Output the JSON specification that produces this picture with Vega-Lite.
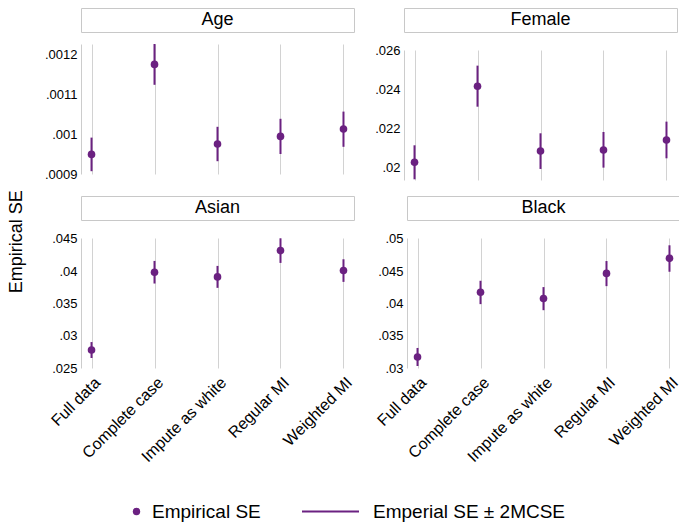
{
  "$schema": "https://vega.github.io/schema/vega-lite/v6.json",
  "padding": {"left": 8, "top": 7, "right": 0, "bottom": 0},
  "background": "white",
  "spacing": 14,
  "title": {"text": "Empirical SE", "orient": "left", "anchor": "middle", "fontSize": 18, "fontWeight": "normal", "font": "Liberation Sans", "color": "black", "offset": 18, "dx": 23},
  "config": {
    "font": "Liberation Sans",
    "view": {"stroke": null},
    "axis": {"labelFont": "Liberation Sans", "labelColor": "black", "titleFont": "Liberation Sans"},
    "legend": {"labelFont": "Liberation Sans", "labelColor": "black", "labelLimit": 400}
  },
  "datasets": {
    "est": [
      {"panel": "Age", "method": "Full data", "se": 0.000949, "lo": 0.000907, "hi": 0.000991},
      {"panel": "Age", "method": "Complete case", "se": 0.001174, "lo": 0.001123, "hi": 0.001225},
      {"panel": "Age", "method": "Impute as white", "se": 0.000975, "lo": 0.000932, "hi": 0.001018},
      {"panel": "Age", "method": "Regular MI", "se": 0.000994, "lo": 0.00095, "hi": 0.001038},
      {"panel": "Age", "method": "Weighted MI", "se": 0.0010125, "lo": 0.000968, "hi": 0.001056},
      {"panel": "Female", "method": "Full data", "se": 0.020256, "lo": 0.019386, "hi": 0.021125},
      {"panel": "Female", "method": "Complete case", "se": 0.024143, "lo": 0.0231, "hi": 0.0252},
      {"panel": "Female", "method": "Impute as white", "se": 0.020835, "lo": 0.019915, "hi": 0.021739},
      {"panel": "Female", "method": "Regular MI", "se": 0.020887, "lo": 0.019983, "hi": 0.021807},
      {"panel": "Female", "method": "Weighted MI", "se": 0.021398, "lo": 0.02046, "hi": 0.022336},
      {"panel": "Asian", "method": "Full data", "se": 0.027784, "lo": 0.026546, "hi": 0.029021},
      {"panel": "Asian", "method": "Complete case", "se": 0.039845, "lo": 0.038093, "hi": 0.041598},
      {"panel": "Asian", "method": "Impute as white", "se": 0.039124, "lo": 0.037423, "hi": 0.040825},
      {"panel": "Asian", "method": "Regular MI", "se": 0.043196, "lo": 0.041289, "hi": 0.045103},
      {"panel": "Asian", "method": "Weighted MI", "se": 0.040103, "lo": 0.03835, "hi": 0.041856},
      {"panel": "Black", "method": "Full data", "se": 0.03171, "lo": 0.03031, "hi": 0.03311},
      {"panel": "Black", "method": "Complete case", "se": 0.04174, "lo": 0.0399, "hi": 0.04352},
      {"panel": "Black", "method": "Impute as white", "se": 0.04078, "lo": 0.03896, "hi": 0.04254},
      {"panel": "Black", "method": "Regular MI", "se": 0.04466, "lo": 0.04269, "hi": 0.04658},
      {"panel": "Black", "method": "Weighted MI", "se": 0.047, "lo": 0.04492, "hi": 0.04902}
    ]
  },
  "vconcat": [
    {
      "spacing": 19,
      "hconcat": [
        {
          "spacing": 11,
          "vconcat": [
            {
              "width": 273, "height": 24,
              "view": {"stroke": "#c8c8c8", "strokeWidth": 1},
              "data": {"values": [{"panel": "Age"}]},
              "mark": {"type": "text", "fontSize": 18, "font": "Liberation Sans", "baseline": "middle", "color": "black"},
              "encoding": {"text": {"field": "panel"}}
            },
            {
              "width": 273, "height": 130,
              "data": {"name": "est"},
              "transform": [{"filter": "datum.panel == 'Age'"}],
              "encoding": {
                "x": {"field": "method", "type": "nominal", "scale": {"type": "point", "padding": 0.167, "domain": ["Full data", "Complete case", "Impute as white", "Regular MI", "Weighted MI"]}, "axis": {"title": null, "labels": false, "ticks": false, "domain": false, "grid": true, "gridColor": "#d2d2d2", "gridWidth": 1}}
              },
              "layer": [
                {
                  "mark": {"type": "rule", "strokeWidth": 2, "clip": true},
                  "encoding": {
                    "y": {"field": "lo", "type": "quantitative", "scale": {"domain": [0.0009, 0.001225], "nice": false, "zero": false}, "axis": {"title": null, "values": [0.0009, 0.001, 0.0011, 0.0012], "labelExpr": "substring(format(datum.value, '~f'), 1)", "ticks": false, "labelPadding": 4, "labelFontSize": 13, "grid": false, "domainColor": "#cccccc"}},
                    "y2": {"field": "hi"},
                    "stroke": {"datum": "Emperial SE ± 2MCSE", "scale": {"range": ["#6b2181"]}, "legend": {"title": null, "orient": "none", "legendX": 220, "legendY": 474, "labelFontSize": 19, "symbolSize": 3249, "symbolStrokeWidth": 2, "labelOffset": 13, "labelLimit": 400}}
                  }
                },
                {
                  "mark": {"type": "point", "filled": true, "size": 58, "opacity": 1},
                  "encoding": {
                    "y": {"field": "se", "type": "quantitative", "axis": {"title": null, "values": [0.0009, 0.001, 0.0011, 0.0012], "labelExpr": "substring(format(datum.value, '~f'), 1)", "ticks": false, "labelPadding": 4, "labelFontSize": 13, "grid": false, "domainColor": "#cccccc"}},
                    "fill": {"datum": "Empirical SE", "scale": {"range": ["#6b2181"]}, "legend": {"title": null, "orient": "none", "legendX": 46, "legendY": 494, "labelFontSize": 19, "symbolSize": 55, "labelOffset": 6}}
                  }
                }
              ]
            }
          ]
        },
        {
          "spacing": 11,
          "vconcat": [
            {
              "width": 273, "height": 24,
              "view": {"stroke": "#c8c8c8", "strokeWidth": 1},
              "data": {"values": [{"panel": "Female"}]},
              "mark": {"type": "text", "fontSize": 18, "font": "Liberation Sans", "baseline": "middle", "color": "black"},
              "encoding": {"text": {"field": "panel"}}
            },
            {
              "width": 273, "height": 130,
              "data": {"name": "est"},
              "transform": [{"filter": "datum.panel == 'Female'"}],
              "encoding": {
                "x": {"field": "method", "type": "nominal", "scale": {"type": "point", "padding": 0.167, "domain": ["Full data", "Complete case", "Impute as white", "Regular MI", "Weighted MI"]}, "axis": {"title": null, "labels": false, "ticks": false, "domain": false, "grid": true, "gridColor": "#d2d2d2", "gridWidth": 1}}
              },
              "layer": [
                {
                  "mark": {"type": "rule", "strokeWidth": 2, "clip": true},
                  "encoding": {
                    "y": {"field": "lo", "type": "quantitative", "scale": {"domain": [0.01935, 0.026], "nice": false, "zero": false}, "axis": {"title": null, "values": [0.02, 0.022, 0.024, 0.026], "labelExpr": "substring(format(datum.value, '~f'), 1)", "ticks": false, "labelPadding": 4, "labelFontSize": 13, "grid": false, "domainColor": "#cccccc"}},
                    "y2": {"field": "hi"},
                    "stroke": {"datum": "Emperial SE ± 2MCSE"}
                  }
                },
                {
                  "mark": {"type": "point", "filled": true, "size": 58, "opacity": 1},
                  "encoding": {
                    "y": {"field": "se", "type": "quantitative", "axis": {"title": null, "values": [0.02, 0.022, 0.024, 0.026], "labelExpr": "substring(format(datum.value, '~f'), 1)", "ticks": false, "labelPadding": 4, "labelFontSize": 13, "grid": false, "domainColor": "#cccccc"}},
                    "fill": {"datum": "Empirical SE"}
                  }
                }
              ]
            }
          ]
        }
      ]
    },
    {
      "spacing": 19,
      "hconcat": [
        {
          "spacing": 11,
          "vconcat": [
            {
              "width": 273, "height": 24,
              "view": {"stroke": "#c8c8c8", "strokeWidth": 1},
              "data": {"values": [{"panel": "Asian"}]},
              "mark": {"type": "text", "fontSize": 18, "font": "Liberation Sans", "baseline": "middle", "color": "black"},
              "encoding": {"text": {"field": "panel"}}
            },
            {
              "width": 273, "height": 130,
              "data": {"name": "est"},
              "transform": [{"filter": "datum.panel == 'Asian'"}],
              "encoding": {
                "x": {"field": "method", "type": "nominal", "scale": {"type": "point", "padding": 0.167, "domain": ["Full data", "Complete case", "Impute as white", "Regular MI", "Weighted MI"]}, "axis": {"title": null, "labels": true, "labelAngle": -45, "labelFontSize": 16, "labelPadding": 6, "ticks": false, "domain": false, "grid": true, "gridColor": "#d2d2d2", "gridWidth": 1}}
              },
              "layer": [
                {
                  "mark": {"type": "rule", "strokeWidth": 2, "clip": true},
                  "encoding": {
                    "y": {"field": "lo", "type": "quantitative", "scale": {"domain": [0.025, 0.04515], "nice": false, "zero": false}, "axis": {"title": null, "values": [0.025, 0.03, 0.035, 0.04, 0.045], "labelExpr": "substring(format(datum.value, '~f'), 1)", "ticks": false, "labelPadding": 4, "labelFontSize": 13, "grid": false, "domainColor": "#cccccc"}},
                    "y2": {"field": "hi"},
                    "stroke": {"datum": "Emperial SE ± 2MCSE"}
                  }
                },
                {
                  "mark": {"type": "point", "filled": true, "size": 58, "opacity": 1},
                  "encoding": {
                    "y": {"field": "se", "type": "quantitative", "axis": {"title": null, "values": [0.025, 0.03, 0.035, 0.04, 0.045], "labelExpr": "substring(format(datum.value, '~f'), 1)", "ticks": false, "labelPadding": 4, "labelFontSize": 13, "grid": false, "domainColor": "#cccccc"}},
                    "fill": {"datum": "Empirical SE"}
                  }
                }
              ]
            }
          ]
        },
        {
          "spacing": 11,
          "vconcat": [
            {
              "width": 273, "height": 24,
              "view": {"stroke": "#c8c8c8", "strokeWidth": 1},
              "data": {"values": [{"panel": "Black"}]},
              "mark": {"type": "text", "fontSize": 18, "font": "Liberation Sans", "baseline": "middle", "color": "black"},
              "encoding": {"text": {"field": "panel"}}
            },
            {
              "width": 273, "height": 130,
              "data": {"name": "est"},
              "transform": [{"filter": "datum.panel == 'Black'"}],
              "encoding": {
                "x": {"field": "method", "type": "nominal", "scale": {"type": "point", "padding": 0.167, "domain": ["Full data", "Complete case", "Impute as white", "Regular MI", "Weighted MI"]}, "axis": {"title": null, "labels": true, "labelAngle": -45, "labelFontSize": 16, "labelPadding": 6, "ticks": false, "domain": false, "grid": true, "gridColor": "#d2d2d2", "gridWidth": 1}}
              },
              "layer": [
                {
                  "mark": {"type": "rule", "strokeWidth": 2, "clip": true},
                  "encoding": {
                    "y": {"field": "lo", "type": "quantitative", "scale": {"domain": [0.03, 0.05015], "nice": false, "zero": false}, "axis": {"title": null, "values": [0.03, 0.035, 0.04, 0.045, 0.05], "labelExpr": "substring(format(datum.value, '~f'), 1)", "ticks": false, "labelPadding": 4, "labelFontSize": 13, "grid": false, "domainColor": "#cccccc"}},
                    "y2": {"field": "hi"},
                    "stroke": {"datum": "Emperial SE ± 2MCSE"}
                  }
                },
                {
                  "mark": {"type": "point", "filled": true, "size": 58, "opacity": 1},
                  "encoding": {
                    "y": {"field": "se", "type": "quantitative", "axis": {"title": null, "values": [0.03, 0.035, 0.04, 0.045, 0.05], "labelExpr": "substring(format(datum.value, '~f'), 1)", "ticks": false, "labelPadding": 4, "labelFontSize": 13, "grid": false, "domainColor": "#cccccc"}},
                    "fill": {"datum": "Empirical SE"}
                  }
                }
              ]
            }
          ]
        }
      ]
    }
  ]
}
